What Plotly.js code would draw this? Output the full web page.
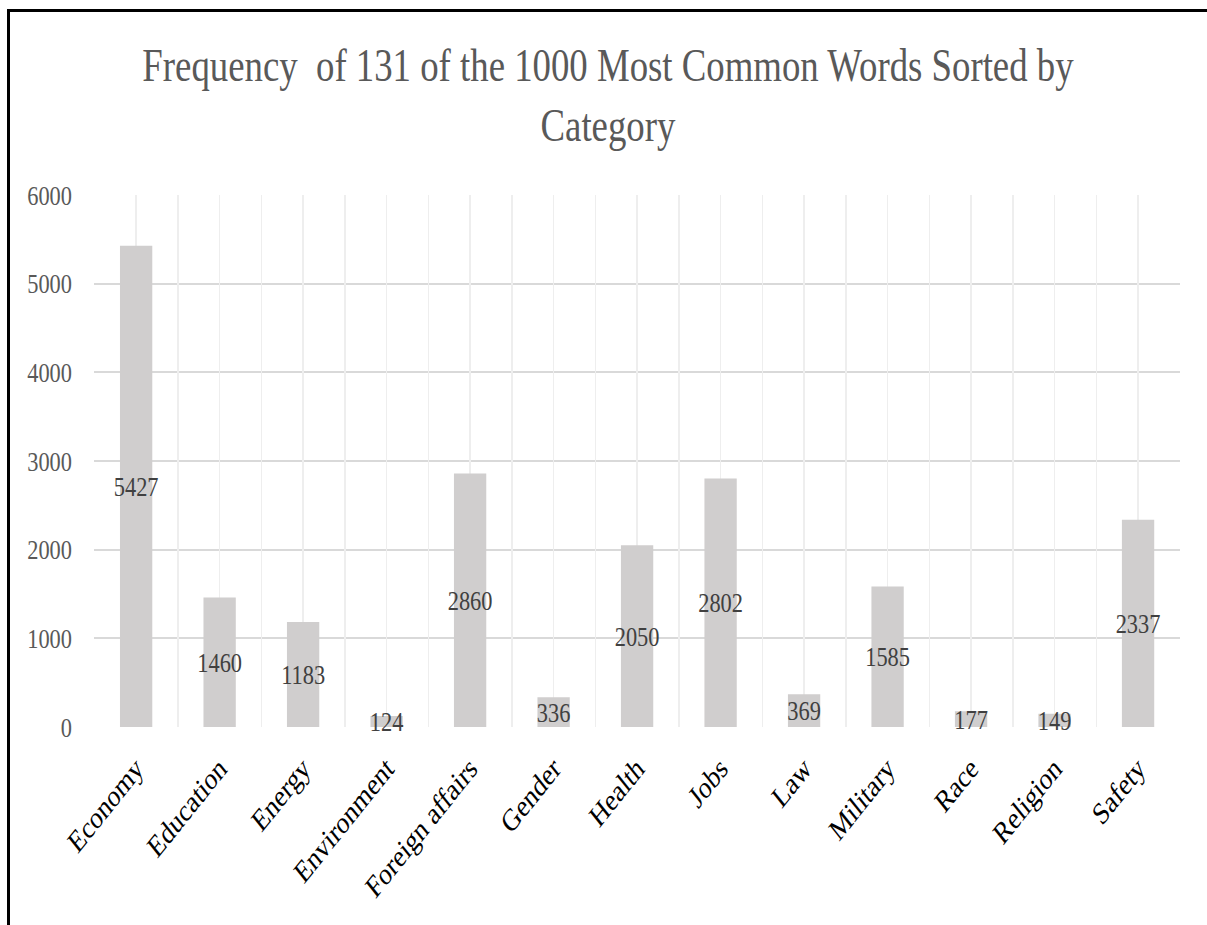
<!DOCTYPE html>
<html>
<head>
<meta charset="utf-8">
<script src="https://cdn.plot.ly/plotly-3.0.1.min.js"></script>
<style>
  html, body { margin: 0; padding: 0; background: #fff; overflow: hidden; }
  /* narrow serif look: the chart is laid out wide and squeezed horizontally */
  #chart {
    position: absolute; left: 0; top: 0;
    width: 1509px; height: 925px;
    transform: scaleX(0.79987); transform-origin: 0 0;
  }
  #frame {
    position: absolute; left: 7px; top: 9px;
    width: 1200px; height: 916px;
    border-left: 3px solid #000; border-top: 3px solid #000;
    box-sizing: border-box; pointer-events: none;
  }
</style>
</head>
<body>
<div id="chart"></div>
<div id="frame"></div>
<script>
// word counts per topic category
const categories = ['Economy', 'Education', 'Energy', 'Environment', 'Foreign affairs',
  'Gender', 'Health', 'Jobs', 'Law', 'Military', 'Race', 'Religion', 'Safety'];
const counts = [5427, 1460, 1183, 124, 2860, 336, 2050, 2802, 369, 1585, 177, 149, 2337];
const yTicks = [0, 1000, 2000, 3000, 4000, 5000, 6000];

const serif = "'Liberation Serif', 'Times New Roman', serif";

const bars = {
  type: 'bar',
  x: categories,
  y: counts,
  text: counts.map(String),
  textposition: 'inside',
  insidetextanchor: 'middle',
  constraintext: 'none',
  textangle: 0,
  textfont: { family: serif, size: 28, color: '#404040' },
  marker: { color: '#d0cece', line: { width: 0 } },
  cliponaxis: false,
  hoverinfo: 'none'
};

// helper axis that only carries the half-category vertical grid
const gridCarrier = {
  type: 'scatter', mode: 'markers',
  x: [], y: [],
  xaxis: 'x2', yaxis: 'y',
  hoverinfo: 'none', showlegend: false
};

const layout = {
  width: 1509,
  height: 925,
  paper_bgcolor: '#ffffff',
  plot_bgcolor: '#ffffff',
  margin: { l: 118, r: 34, t: 195, b: 198 },
  showlegend: false,
  bargap: 0.613,
  hovermode: false,
  title: {
    text: 'Frequency&nbsp; of 131 of the 1000 Most Common Words Sorted by<br>Category',
    font: { family: serif, size: 46, color: '#595959' },
    xref: 'container', x: 0.5037, xanchor: 'center',
    yref: 'container', y: 0.912, yanchor: 'top'
  },
  xaxis: {
    type: 'category',
    showgrid: false,
    zeroline: false,
    showline: false,
    ticks: '',
    tickangle: -45,
    ticklabelstandoff: 16,
    tickfont: { family: serif, size: 31, color: '#000000' },
    fixedrange: true
  },
  xaxis2: {
    overlaying: 'x',
    anchor: 'y',
    side: 'bottom',
    range: [-0.5, 12.5],
    tick0: -0.5,
    dtick: 0.5,
    showgrid: true,
    gridcolor: '#eeeeee',
    gridwidth: 2,
    showticklabels: false,
    ticks: '',
    zeroline: false,
    showline: false,
    fixedrange: true
  },
  yaxis: {
    range: [0, 6000],
    tickvals: yTicks,
    ticktext: yTicks.map(String),
    showgrid: true,
    gridcolor: '#d9d9d9',
    gridwidth: 2,
    zeroline: false,
    showline: false,
    ticks: '',
    ticklabelstandoff: 27,
    tickfont: { family: serif, size: 28, color: '#595959' },
    fixedrange: true
  }
};

Plotly.newPlot('chart', [bars, gridCarrier], layout, { staticPlot: true, displayModeBar: false });
</script>
</body>
</html>
